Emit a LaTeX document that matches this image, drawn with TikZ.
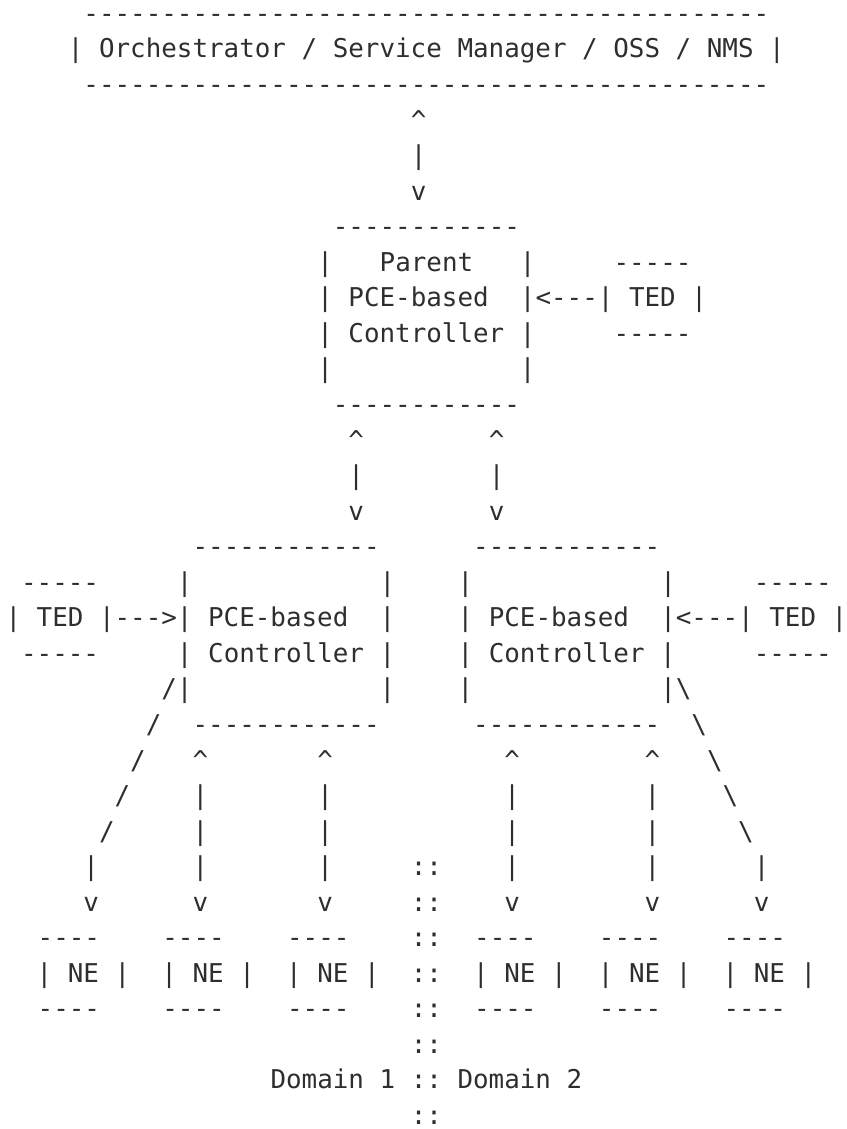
\documentclass[tikz,border=0pt]{standalone}
\usepackage{fontspec}
\setmonofont{DejaVu Sans Mono}
\definecolor{ink}{HTML}{2E2E2E}
\tikzset{asc/.style={inner sep=0pt, outer sep=0pt, anchor=base west, text=ink,
    font=\ttfamily\frenchspacing\fontsize{25.89pt}{35.55pt}\selectfont}}
% one piece of text at (row, column) of the character grid
\newcommand\asc[4]{\node[asc] (#1) at ({5.5+15.59*#3},{58+35.55*(#2-2)}) {#4};}
\newcommand\cc{\textasciicircum}

\begin{document}
\begin{tikzpicture}[x=1pt,y=-1pt]
			\useasboundingbox (0,0) rectangle (846,1129);
			
			%%%%% orchestrator %%%%%
			\asc{orchtop}{1}{5}{--------------------------------------------}
			\asc{orch}{2}{4}{| Orchestrator / Service Manager / OSS / NMS |}
			\asc{orchbot}{3}{5}{--------------------------------------------}
			\asc{oup}{4}{26}{\cc}
			\asc{obar}{5}{26}{|}
			\asc{odown}{6}{26}{v}
			
			%%%%% parent controller %%%%%
			\asc{ptop}{7}{21}{------------}
			\asc{pl1}{8}{20}{|}
			\asc{parent}{8}{24}{Parent}
			\asc{pr1}{8}{33}{|}
			\asc{tedtop}{8}{39}{-----}
			\asc{ppce}{9}{20}{| PCE-based}
			\asc{ted}{9}{33}{|<---| TED |}
			\asc{pctl}{10}{20}{| Controller |}
			\asc{tedbot}{10}{39}{-----}
			\asc{pl2}{11}{20}{|}
			\asc{pr2}{11}{33}{|}
			\asc{pbot}{12}{21}{------------}
			\foreach \c in {22,31} {
				\asc{pup\c}{13}{\c}{\cc}
				\asc{pbar\c}{14}{\c}{|}
				\asc{pdown\c}{15}{\c}{v}
			}
			
			%%%%% child controllers %%%%%
			\asc{ltop}{16}{12}{------------}
			\asc{rtop}{16}{30}{------------}
			\asc{ltedtop}{17}{1}{-----}
			\foreach \c in {11,24,29,42} {\asc{side\c}{17}{\c}{|}}
			\asc{rtedtop}{17}{48}{-----}
			\asc{lpce}{18}{0}{| TED |--->| PCE-based}
			\asc{lr}{18}{24}{|}
			\asc{rpce}{18}{29}{| PCE-based}
			\asc{rted}{18}{42}{|<---| TED |}
			\asc{ltedbot}{19}{1}{-----}
			\asc{lctl}{19}{11}{| Controller |}
			\asc{rctl}{19}{29}{| Controller |}
			\asc{rtedbot}{19}{48}{-----}
			\asc{lslash}{20}{10}{/|}
			\asc{lr2}{20}{24}{|}
			\asc{rl2}{20}{29}{|}
			\asc{rslash}{20}{42}{|\textbackslash}
			\asc{lbot}{21}{12}{------------}
			\asc{rbot}{21}{30}{------------}
			
			%%%%% links to network elements %%%%%
			\asc{ls21}{21}{9}{/}
			\asc{ls22}{22}{8}{/}
			\asc{ls23}{23}{7}{/}
			\asc{ls24}{24}{6}{/}
			\asc{rs21}{21}{44}{\textbackslash}
			\asc{rs22}{22}{45}{\textbackslash}
			\asc{rs23}{23}{46}{\textbackslash}
			\asc{rs24}{24}{47}{\textbackslash}
			\foreach \c in {12,20,32,41} {
				\asc{up\c}{22}{\c}{\cc}
				\asc{bara\c}{23}{\c}{|}
				\asc{barb\c}{24}{\c}{|}
			}
			\foreach \c in {5,12,20,32,41,48} {
				\asc{barc\c}{25}{\c}{|}
				\asc{down\c}{26}{\c}{v}
			}
			
			%%%%% network elements %%%%%
			\foreach \c in {2,10,18,30,38,46} {
				\asc{netop\c}{27}{\c+1}{----}
				\asc{ne\c}{28}{\c}{| NE |}
				\asc{nebot\c}{29}{\c+1}{----}
			}
			
			%%%%% domain border %%%%%
			\foreach \r in {25,26,27,28,29,30,32} {\asc{dots\r}{\r}{26}{::}}
			\asc{domains}{31}{17}{Domain 1 :: Domain 2}
			
		\end{tikzpicture}
\end{document}
